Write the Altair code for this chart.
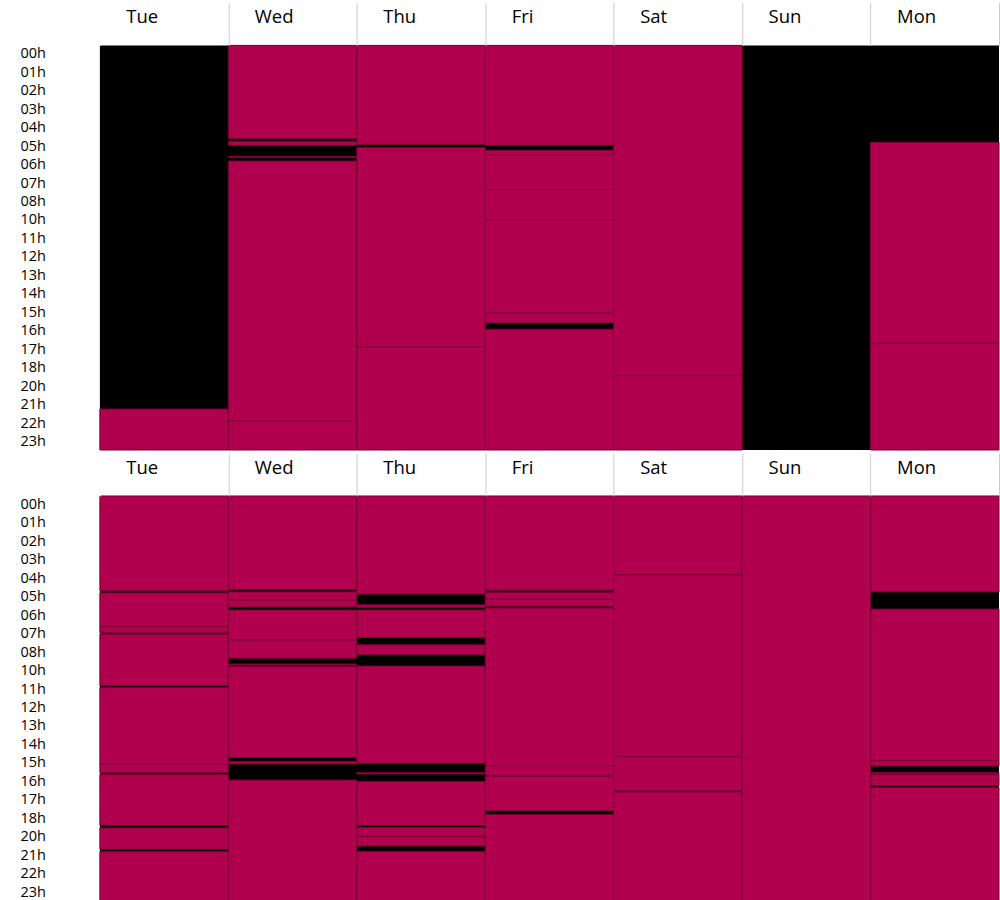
import altair as alt
import pandas as pd

DAYS = ["Tue", "Wed", "Thu", "Fri", "Sat", "Sun", "Mon"]
HOUR_LABELS = ["00h", "01h", "02h", "03h", "04h", "05h", "06h", "07h", "08h",
               "10h", "11h", "12h", "13h", "14h", "15h", "16h", "17h", "18h",
               "20h", "21h", "22h", "23h"]

# Interval starts / ends (hours) for each day, top panel
TOP_STARTS = {
    "Tue": [21.57],
    "Wed": [0, 5.69, 6.58, 6.86, 22.28],
    "Thu": [0, 6.06, 17.9],
    "Fri": [0, 6.22, 6.52, 8.55, 10.33, 15.88, 16.83],
    "Sat": [0, 19.6],
    "Sun": [],
    "Mon": [5.75, 17.66],
}
TOP_ENDS = {
    "Tue": [24],
    "Wed": [5.53, 5.93, 6.65, 22.28, 24],
    "Thu": [5.87, 17.9, 24],
    "Fri": [5.93, 6.52, 8.55, 10.33, 15.88, 16.46, 24],
    "Sat": [19.6, 24],
    "Sun": [],
    "Mon": [17.66, 24],
}

# bottom panel
BOT_STARTS = {
    "Tue": [0, 5.75, 7.76, 8.2, 11.36, 15.9, 16.53, 19.69, 21.1],
    "Wed": [0, 5.69, 6.18, 6.76, 8.55, 9.97, 10.12, 15.74, 16.85],
    "Thu": [0, 6.46, 6.76, 8.83, 10.09, 16.41, 16.93, 19.66, 20.21, 21.08],
    "Fri": [0, 5.73, 6.12, 6.65, 16.0, 16.63, 18.89],
    "Sat": [0, 4.68, 15.47, 17.56],
    "Sun": [0],
    "Mon": [0, 6.71, 15.7, 16.4, 16.53, 16.83, 17.29],
}
BOT_ENDS = {
    "Tue": [5.63, 7.76, 8.12, 11.26, 15.9, 16.41, 19.54, 20.96, 24],
    "Wed": [5.57, 6.18, 6.58, 8.55, 9.62, 10.03, 15.51, 15.9, 24],
    "Thu": [5.82, 6.62, 8.4, 9.42, 15.86, 16.49, 19.54, 20.21, 20.76, 24],
    "Fri": [5.59, 6.12, 6.54, 16.0, 16.58, 18.68, 24],
    "Sat": [4.68, 15.47, 17.48, 24],
    "Sun": [24],
    "Mon": [5.69, 15.7, 16.02, 16.49, 16.83, 17.19, 24],
}

FILL = "#b0004e"
EDGE = "#7a0036"
FONT = "Open Sans"


def table(starts, ends):
    rows = []
    for d in DAYS:
        for s, e in zip(starts[d], ends[d]):
            rows.append({"day": d, "start": s, "end": e})
    return pd.DataFrame(rows, columns=["day", "start", "end"])


def panel(starts, ends):
    df = table(starts, ends)
    x = alt.X(
        "day:N",
        sort=DAYS,
        scale=alt.Scale(domain=DAYS, paddingInner=0, paddingOuter=0),
        axis=alt.Axis(
            orient="top", title=None, domain=False, ticks=True,
            tickBand="extent", tickSize=43, tickWidth=1,
            tickColor={"condition": {"test": "datum.extra || datum.index < 0", "value": "white"},
                       "value": "#cccccc"},
            labelAngle=0, labelAlign="left", labelOffset=-38.3,
            labelPadding=-20.5, labelBaseline="alphabetic",
            labelFontSize=18.5, labelFont=FONT, labelColor="black",
            minExtent=45, maxExtent=45,
        ),
    )
    rects = alt.Chart(df).mark_rect(fill=FILL, stroke=EDGE, strokeWidth=1).encode(
        x=x,
        y=alt.Y("start:Q", scale=alt.Scale(domain=[0, 24], reverse=True, nice=False, zero=False),
                axis=None),
        y2="end:Q",
    )
    labels = alt.Chart(pd.DataFrame({"lab": HOUR_LABELS})).mark_point(opacity=0).encode(
        y=alt.Y("lab:O", sort=HOUR_LABELS, scale=alt.Scale(padding=0.45),
                axis=alt.Axis(orient="left", title=None, domain=False, ticks=False,
                              labelAlign="left", labelPadding=80, labelFontSize=14.5,
                              labelFont=FONT, labelColor="black", labelBaseline="middle",
                              minExtent=100, maxExtent=100)),
    )
    return alt.layer(rects, labels).resolve_scale(y="independent").properties(width=900, height=405)


chart = alt.vconcat(panel(TOP_STARTS, TOP_ENDS), panel(BOT_STARTS, BOT_ENDS), spacing=0).properties(
    padding=0
).configure_view(fill="black", strokeWidth=0)

chart.save("out.html", embed_options={"renderer": "svg", "actions": False})
